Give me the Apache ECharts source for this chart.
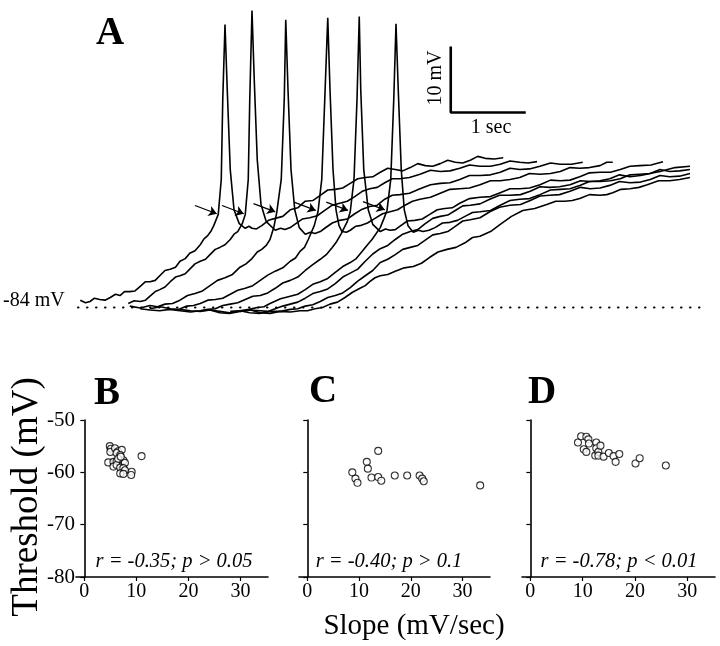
<!DOCTYPE html>
<html><head><meta charset="utf-8">
<script src="https://cdn.jsdelivr.net/npm/echarts@6/dist/echarts.min.js"></script>
<style>html,body{margin:0;padding:0;background:#fff}#c{width:720px;height:646px}</style>
</head><body><div id="c"></div>
<script>
// ---------- Panel A: membrane potential traces (time s, mV) ----------
const restingPotential = -84;
const trace1 = [[0.03,-82.9],[0.10,-83.3],[0.16,-83.1],[0.22,-82.6],[0.29,-82.8],[0.36,-82.9],[0.43,-82.5],[0.50,-82.0],[0.56,-82.2],[0.62,-81.6],[0.69,-81.6],[0.76,-81.5],[0.83,-80.8],[0.90,-80.1],[0.96,-80.1],[1.03,-79.9],[1.09,-79.2],[1.16,-78.4],[1.23,-78.2],[1.30,-77.9],[1.36,-77.0],[1.43,-76.6],[1.49,-75.8],[1.56,-75.4],[1.63,-74.5],[1.68,-73.6],[1.73,-73.1],[1.77,-72.5],[1.81,-71.6],[1.87,-69.9],[1.91,-64.6],[1.93,-52.5],[1.96,-41.1],[1.99,-51.0],[2.03,-63.1],[2.08,-69.2],[2.15,-71.3],[2.23,-72.0],[2.28,-71.7],[2.32,-72.0],[2.38,-72.1],[2.45,-71.6],[2.54,-70.8],[2.63,-70.5],[2.73,-70.2],[2.83,-69.2],[2.93,-68.9],[3.03,-67.9],[3.13,-67.8],[3.23,-67.0],[3.33,-66.2],[3.43,-66.1],[3.53,-65.9],[3.63,-65.2],[3.73,-64.5],[3.83,-64.3],[3.93,-64.2],[4.03,-63.5],[4.13,-62.9],[4.23,-63.1],[4.33,-63.3],[4.43,-62.8],[4.53,-62.2],[4.63,-62.5],[4.73,-62.6],[4.83,-62.2],[4.93,-61.7],[5.03,-62.0],[5.13,-62.1],[5.23,-61.7],[5.33,-61.1],[5.43,-61.4],[5.55,-61.5],[5.67,-61.3]];
const trace2 = [[0.67,-83.4],[0.75,-83.0],[0.83,-83.1],[0.90,-82.9],[0.96,-82.3],[1.03,-81.6],[1.09,-81.3],[1.16,-80.9],[1.23,-80.1],[1.30,-79.4],[1.36,-79.2],[1.43,-78.9],[1.49,-78.2],[1.56,-77.4],[1.63,-77.0],[1.70,-76.7],[1.76,-76.0],[1.83,-75.2],[1.89,-74.9],[1.96,-74.5],[2.03,-73.7],[2.08,-72.9],[2.13,-72.5],[2.19,-71.3],[2.23,-69.9],[2.27,-64.6],[2.29,-52.5],[2.32,-39.0],[2.35,-49.5],[2.39,-61.6],[2.44,-68.4],[2.51,-71.0],[2.63,-72.3],[2.70,-72.0],[2.76,-72.2],[2.83,-71.9],[2.89,-71.4],[2.99,-70.6],[3.09,-70.4],[3.19,-70.1],[3.29,-69.3],[3.39,-68.5],[3.49,-68.2],[3.59,-67.9],[3.69,-67.2],[3.79,-66.4],[3.89,-66.0],[3.99,-65.8],[4.09,-65.1],[4.19,-64.5],[4.29,-64.5],[4.42,-64.3],[4.56,-63.8],[4.70,-63.2],[4.83,-63.4],[4.96,-63.3],[5.09,-62.9],[5.22,-62.4],[5.36,-62.6],[5.50,-62.6],[5.63,-62.3],[5.76,-61.8],[5.89,-62.0],[6.00,-62.1],[6.12,-61.9]];
const trace3 = [[0.69,-83.8],[0.83,-84.1],[0.96,-83.7],[1.06,-83.9],[1.16,-83.5],[1.26,-83.4],[1.36,-82.9],[1.46,-82.2],[1.56,-81.9],[1.66,-81.5],[1.76,-80.7],[1.86,-79.9],[1.96,-79.5],[2.06,-79.0],[2.16,-77.9],[2.24,-77.4],[2.32,-76.6],[2.39,-75.6],[2.45,-75.2],[2.51,-74.6],[2.56,-73.7],[2.61,-71.9],[2.65,-69.6],[2.71,-64.6],[2.75,-52.5],[2.77,-40.4],[2.80,-51.0],[2.84,-63.1],[2.89,-69.2],[2.95,-71.9],[3.03,-72.9],[3.10,-72.6],[3.16,-72.8],[3.23,-72.5],[3.29,-72.0],[3.39,-71.2],[3.49,-70.8],[3.59,-70.6],[3.69,-69.8],[3.79,-69.1],[3.89,-68.7],[3.99,-68.5],[4.09,-67.6],[4.19,-67.0],[4.29,-66.9],[4.42,-66.7],[4.56,-66.0],[4.70,-65.4],[4.83,-65.2],[4.96,-65.1],[5.09,-64.6],[5.22,-64.0],[5.36,-64.0],[5.50,-63.9],[5.63,-63.5],[5.76,-62.9],[5.89,-63.1],[6.02,-63.0],[6.16,-62.6],[6.30,-62.1],[6.43,-62.3],[6.58,-62.3],[6.73,-62.0]];
const trace4 = [[0.96,-84.2],[1.10,-83.9],[1.23,-84.2],[1.34,-84.3],[1.45,-83.8],[1.54,-83.7],[1.63,-83.4],[1.73,-82.9],[1.83,-82.8],[1.93,-82.6],[2.03,-82.0],[2.13,-81.4],[2.23,-81.1],[2.33,-80.7],[2.43,-79.9],[2.53,-79.1],[2.63,-78.5],[2.73,-78.0],[2.83,-77.0],[2.90,-76.5],[2.96,-75.5],[3.02,-74.9],[3.07,-73.7],[3.15,-71.6],[3.20,-69.5],[3.25,-64.6],[3.29,-52.5],[3.33,-40.1],[3.36,-51.0],[3.40,-63.1],[3.44,-69.2],[3.48,-71.6],[3.52,-72.5],[3.58,-72.6],[3.63,-72.3],[3.70,-71.7],[3.76,-71.6],[3.86,-71.2],[3.96,-70.5],[4.06,-69.8],[4.16,-69.5],[4.26,-69.2],[4.36,-68.5],[4.46,-67.9],[4.56,-67.6],[4.70,-67.3],[4.83,-66.7],[4.96,-66.1],[5.09,-66.0],[5.22,-65.9],[5.36,-65.4],[5.50,-64.8],[5.63,-64.8],[5.76,-64.6],[5.89,-64.3],[6.02,-63.7],[6.16,-63.8],[6.30,-63.7],[6.43,-63.4],[6.56,-62.8],[6.69,-62.9],[6.82,-62.8],[6.96,-62.5],[7.05,-62.0],[7.13,-62.0]];
const trace5 = [[0.83,-84.2],[0.96,-84.4],[1.09,-84.5],[1.22,-84.3],[1.36,-84.5],[1.50,-84.7],[1.63,-84.5],[1.73,-84.3],[1.83,-84.2],[1.93,-83.7],[2.03,-83.5],[2.13,-83.3],[2.23,-82.8],[2.33,-82.3],[2.43,-82.2],[2.53,-81.8],[2.63,-81.1],[2.73,-80.3],[2.83,-79.9],[2.93,-79.4],[3.03,-78.4],[3.13,-77.5],[3.23,-76.7],[3.31,-76.0],[3.39,-74.9],[3.45,-74.0],[3.51,-72.8],[3.59,-71.0],[3.63,-69.5],[3.68,-64.6],[3.72,-52.5],[3.75,-39.9],[3.77,-51.0],[3.81,-63.1],[3.87,-69.2],[3.93,-71.4],[4.03,-72.5],[4.10,-72.1],[4.16,-72.3],[4.23,-72.2],[4.29,-71.7],[4.39,-70.9],[4.49,-70.8],[4.59,-70.6],[4.69,-69.9],[4.79,-69.2],[4.89,-69.0],[4.99,-68.9],[5.09,-68.2],[5.22,-67.5],[5.36,-67.3],[5.50,-67.2],[5.63,-66.6],[5.76,-66.0],[5.89,-66.0],[6.02,-65.9],[6.16,-65.4],[6.30,-64.7],[6.43,-64.8],[6.56,-64.7],[6.69,-64.2],[6.82,-63.6],[6.96,-63.5],[7.10,-63.5],[7.23,-63.1],[7.36,-62.6],[7.49,-62.5],[7.64,-62.4],[7.80,-61.9]];
const trace6 = [[1.36,-84.3],[1.50,-84.5],[1.63,-84.6],[1.76,-84.4],[1.89,-84.6],[2.02,-84.8],[2.16,-84.5],[2.28,-84.3],[2.39,-84.0],[2.48,-83.9],[2.56,-83.4],[2.70,-82.7],[2.83,-82.3],[2.93,-82.0],[3.03,-81.3],[3.13,-80.5],[3.23,-80.1],[3.33,-79.6],[3.43,-78.7],[3.53,-77.8],[3.63,-77.2],[3.71,-76.6],[3.79,-75.5],[3.86,-74.5],[3.92,-73.7],[4.03,-71.9],[4.08,-70.5],[4.12,-69.3],[4.17,-64.6],[4.21,-52.5],[4.24,-41.0],[4.27,-51.0],[4.31,-63.1],[4.35,-69.2],[4.40,-71.6],[4.47,-72.6],[4.54,-72.3],[4.60,-72.5],[4.68,-72.3],[4.76,-71.9],[4.86,-71.2],[4.96,-71.1],[5.06,-70.8],[5.16,-70.2],[5.26,-69.6],[5.36,-69.5],[5.50,-69.3],[5.63,-68.5],[5.76,-67.8],[5.89,-67.6],[6.02,-67.5],[6.16,-66.9],[6.30,-66.2],[6.43,-66.1],[6.56,-66.0],[6.69,-65.5],[6.82,-64.9],[6.96,-64.9],[7.10,-64.8],[7.23,-64.5],[7.36,-63.9],[7.49,-63.8],[7.62,-63.7],[7.76,-63.4],[7.96,-62.8],[8.16,-62.6]];
const trace7 = [[1.63,-84.5],[1.76,-84.4],[1.89,-84.8],[2.02,-84.9],[2.16,-84.6],[2.30,-84.4],[2.43,-84.5],[2.53,-84.6],[2.63,-84.2],[2.73,-83.8],[2.83,-83.5],[2.93,-83.2],[3.03,-82.6],[3.13,-81.9],[3.23,-81.6],[3.33,-81.2],[3.43,-80.4],[3.53,-79.4],[3.63,-78.8],[3.73,-78.2],[3.83,-77.0],[3.93,-75.9],[4.03,-75.1],[4.13,-74.6],[4.23,-73.7],[4.33,-72.9],[4.43,-72.5],[4.53,-72.2],[4.63,-71.3],[4.73,-70.5],[4.83,-70.2],[4.93,-70.0],[5.03,-69.3],[5.13,-68.6],[5.23,-68.5],[5.36,-68.3],[5.49,-67.6],[5.62,-67.0],[5.76,-67.0],[5.90,-66.9],[6.03,-66.4],[6.16,-65.7],[6.29,-65.8],[6.42,-65.7],[6.56,-65.4],[6.70,-64.8],[6.83,-64.9],[6.96,-64.8],[7.09,-64.5],[7.22,-63.9],[7.36,-64.2],[7.50,-64.0],[7.63,-63.7],[7.76,-63.1],[7.89,-63.4],[8.02,-63.3],[8.16,-63.1]];
const trace8 = [[2.03,-84.6],[2.16,-84.5],[2.29,-84.8],[2.42,-84.9],[2.56,-84.6],[2.70,-84.6],[2.83,-84.3],[2.93,-84.2],[3.03,-83.8],[3.13,-83.6],[3.23,-83.1],[3.33,-82.5],[3.43,-82.2],[3.53,-81.8],[3.63,-81.0],[3.73,-80.0],[3.83,-79.2],[3.93,-78.4],[4.03,-77.2],[4.13,-76.7],[4.23,-76.0],[4.33,-75.2],[4.43,-74.9],[4.53,-74.6],[4.63,-73.8],[4.73,-73.0],[4.83,-72.8],[4.93,-72.5],[5.03,-71.7],[5.13,-70.9],[5.23,-70.7],[5.36,-70.4],[5.49,-69.5],[5.62,-68.8],[5.76,-68.5],[5.90,-68.4],[6.03,-67.8],[6.16,-67.1],[6.29,-67.0],[6.42,-66.9],[6.56,-66.4],[6.70,-65.8],[6.83,-66.0],[6.96,-65.9],[7.09,-65.5],[7.22,-64.9],[7.36,-65.1],[7.50,-65.0],[7.63,-64.6],[7.76,-64.0],[7.89,-64.2],[8.02,-64.1],[8.16,-63.7]];
const trace9 = [[2.16,-84.6],[2.30,-84.4],[2.43,-84.8],[2.56,-84.9],[2.69,-84.6],[2.83,-84.7],[2.96,-84.5],[3.06,-84.5],[3.16,-84.2],[3.26,-84.0],[3.36,-83.5],[3.46,-83.2],[3.56,-82.5],[3.66,-81.7],[3.76,-81.1],[3.83,-80.7],[3.89,-80.1],[3.96,-79.5],[4.03,-79.2],[4.13,-79.0],[4.23,-78.5],[4.35,-78.0],[4.47,-77.8],[4.58,-77.3],[4.69,-76.4],[4.80,-75.6],[4.92,-75.2],[5.04,-74.9],[5.16,-74.2],[5.26,-73.4],[5.36,-73.2],[5.50,-72.5],[5.63,-71.4],[5.78,-70.2],[5.93,-69.3],[6.09,-69.0],[6.25,-68.4],[6.37,-67.9],[6.49,-67.9],[6.59,-67.8],[6.69,-67.5],[6.82,-66.9],[6.96,-67.0],[7.05,-66.9],[7.13,-66.6],[7.24,-66.1],[7.36,-66.0],[7.48,-65.8],[7.59,-65.4],[7.74,-64.8],[7.89,-64.8],[8.02,-64.6],[8.16,-64.3]];
const traces = [trace1, trace2, trace3, trace4, trace5, trace6, trace7, trace8, trace9];
// spike thresholds (arrow tips)
const thresholds = [[1.85,-69.8],[2.21,-69.8],[2.63,-69.5],[3.17,-69.3],[3.60,-69.3],[4.09,-69.2]];
// scale bar: 10 mV, 1 sec
const scaleBarOrigin = [4.97, -54.45];
const scaleBarV = 10, scaleBarT = 1;

// ---------- Panels B-D: threshold vs slope ----------
const slopeTicks = [0, 10, 20, 30];
const thresholdTicks = [-80, -70, -60, -50];
const panelB = [[4.9,-55.0],[5.1,-55.5],[5.0,-56.1],[5.9,-55.4],[6.5,-56.0],[7.2,-55.7],[6.2,-56.3],[6.9,-56.7],[4.6,-58.1],[5.6,-58.0],[6.2,-57.9],[7.5,-57.7],[7.8,-58.2],[5.6,-58.9],[6.2,-58.6],[6.9,-59.1],[7.5,-59.2],[7.8,-59.6],[6.9,-60.2],[7.5,-60.3],[9.1,-59.9],[9.0,-60.5],[11.0,-56.9],[6.5,-57.4],[7.0,-57.0]];
const panelC = [[8.7,-60.0],[9.3,-61.2],[9.7,-62.0],[11.5,-58.0],[11.7,-59.3],[12.4,-61.0],[13.7,-55.9],[13.7,-60.9],[14.3,-61.6],[16.9,-60.6],[19.3,-60.6],[21.7,-60.6],[22.2,-61.2],[22.5,-61.7],[33.4,-62.5]];
const panelD = [[9.1,-54.3],[9.7,-53.1],[10.2,-55.6],[10.7,-53.2],[10.7,-56.1],[11.1,-53.7],[11.2,-54.5],[12.6,-54.3],[12.6,-55.4],[12.4,-56.8],[13.0,-56.1],[13.4,-54.9],[13.0,-56.8],[14.0,-57.0],[15.0,-56.3],[15.9,-56.9],[16.3,-58.0],[17.0,-56.5],[20.1,-58.3],[20.9,-57.3],[25.9,-58.7]];
const statsText = ['r = -0.35; p > 0.05', 'r = -0.40; p > 0.1', 'r = -0.78; p < 0.01'];
const panelLetters = ['A', 'B', 'C', 'D'];

const FONT = '"Liberation Serif", "Times New Roman", serif';
const chart = echarts.init(document.getElementById('c'), null, {renderer: 'canvas'});

const scatterGrids = [
  {left: 76, top: 420, width: 192, height: 157},
  {left: 299, top: 420, width: 191, height: 157},
  {left: 522, top: 420, width: 193, height: 157}
];
const grids = [{left: 78, top: 4, width: 630, height: 343}].concat(scatterGrids);

const xAxes = [{gridIndex: 0, type: 'value', min: 0, max: 8.4, show: false}];
const yAxes = [{gridIndex: 0, type: 'value', min: -90, max: -38, show: false}];
[1, 2, 3].forEach(function (g) {
  xAxes.push({
    gridIndex: g, type: 'value', min: -1.6, max: 35.3,
    axisLine: {lineStyle: {color: '#000', width: 1.6}},
    axisTick: {show: true, length: 4, inside: false, customValues: slopeTicks, lineStyle: {color: '#000', width: 1.2}},
    axisLabel: {customValues: slopeTicks, color: '#000', fontFamily: FONT, fontSize: 20, margin: 5},
    splitLine: {show: false}
  });
  yAxes.push({
    gridIndex: g, type: 'value', min: thresholdTicks[0], max: thresholdTicks[3], interval: 10,
    axisLine: {show: true, lineStyle: {color: '#000', width: 1.6}},
    axisTick: {show: true, length: 4, lineStyle: {color: '#000', width: 1.2}},
    axisLabel: {show: g === 1, color: '#000', fontFamily: FONT, fontSize: 21, margin: 1,
      formatter: function (v) { return String(v); }},
    splitLine: {show: false}
  });
});

const series = [];
traces.forEach(function (tr) {
  series.push({type: 'line', xAxisIndex: 0, yAxisIndex: 0, data: tr, showSymbol: false, symbol: 'none',
    lineStyle: {color: '#000', width: 1.6}, silent: true, z: 3});
});
// dotted resting baseline
series.push({type: 'line', xAxisIndex: 0, yAxisIndex: 0, symbol: 'none',
  data: [[0, restingPotential], [8.4, restingPotential]],
  lineStyle: {color: '#000', width: 2, type: [0.5, 8.5], cap: 'round'}, z: 2});
// scale bar
series.push({type: 'line', xAxisIndex: 0, yAxisIndex: 0, symbol: 'none',
  data: [[scaleBarOrigin[0], scaleBarOrigin[1] + scaleBarV], scaleBarOrigin, [scaleBarOrigin[0] + scaleBarT, scaleBarOrigin[1]]],
  lineStyle: {color: '#000', width: 2.6}, z: 3});
// threshold arrows
series.push({type: 'lines', coordinateSystem: 'cartesian2d', xAxisIndex: 0, yAxisIndex: 0,
  symbol: ['none', 'arrow'], symbolSize: 8,
  lineStyle: {color: '#000', width: 1.3, opacity: 1},
  data: thresholds.map(function (p) { return {coords: [[p[0] - 0.29, p[1] + 1.25], p]}; }), z: 4});
// scatter panels
[panelB, panelC, panelD].forEach(function (d, i) {
  series.push({type: 'scatter', xAxisIndex: i + 1, yAxisIndex: i + 1, data: d, symbol: 'circle', symbolSize: 7,
    itemStyle: {color: '#fff', borderColor: '#000', borderWidth: 1.1}});
});

function txt(x, y, text, size, opts) {
  opts = opts || {};
  return {type: 'text', x: x, y: y, rotation: opts.rotation || 0, z: 10,
    style: {text: text, fill: '#000', fontFamily: FONT, fontSize: size,
      fontWeight: opts.bold ? 'bold' : 'normal', fontStyle: opts.italic ? 'italic' : 'normal',
      align: opts.align || 'center', verticalAlign: 'middle'}};
}
const graphics = [
  txt(110, 34, panelLetters[0], 39, {bold: true}),
  txt(107, 394, panelLetters[1], 39, {bold: true}),
  txt(323, 392, panelLetters[2], 39, {bold: true}),
  txt(542, 393, panelLetters[3], 39, {bold: true}),
  txt(3, 301, restingPotential + ' mV', 20, {align: 'left'}),
  txt(436, 78, scaleBarV + ' mV', 20, {rotation: Math.PI / 2}),
  txt(491, 128, scaleBarT + ' sec', 20),
  txt(174, 562, statsText[0], 20.5, {italic: true}),
  txt(389, 562, statsText[1], 20.5, {italic: true}),
  txt(619, 562, statsText[2], 20.5, {italic: true}),
  txt(27, 497, 'Threshold (mV)', 37, {rotation: Math.PI / 2}),
  txt(414, 626, 'Slope (mV/sec)', 29)
];

chart.setOption({
  animation: false,
  backgroundColor: '#fff',
  textStyle: {fontFamily: FONT},
  grid: grids,
  xAxis: xAxes,
  yAxis: yAxes,
  series: series,
  graphic: graphics
});
</script></body></html>
